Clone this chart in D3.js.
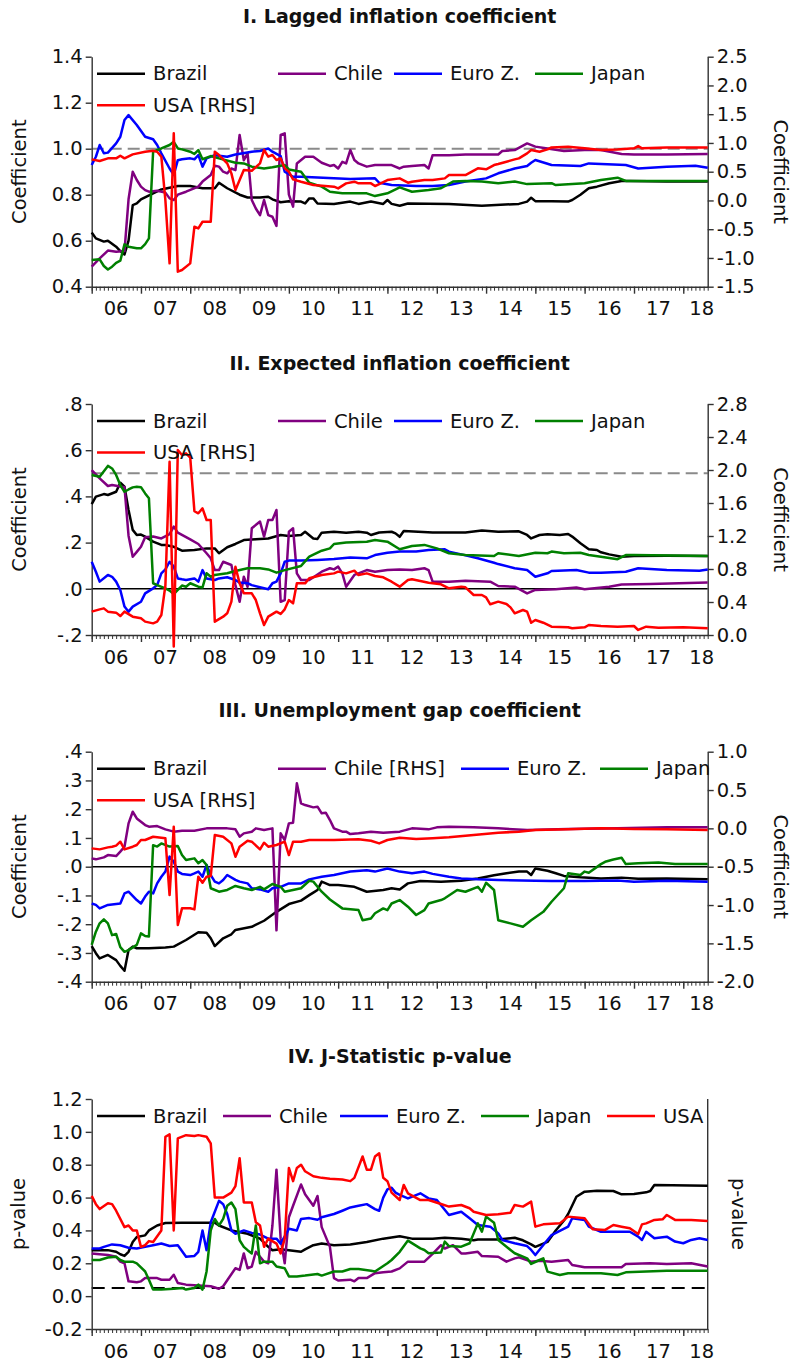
<!DOCTYPE html>
<html><head><meta charset="utf-8">
<script src="https://cdn.jsdelivr.net/npm/d3@7"></script>
<style>body{margin:0;background:#fff}text{font-family:"DejaVu Sans",sans-serif;fill:#111}</style>
</head><body><svg id="c" width="793" height="1363"></svg>
<script>
// month index 0 = Jan 2006 (monthly observations, last = Jul 2018)
const yearLabels = ["06","07","08","09","10","11","12","13","14","15","16","17","18"];
const countries = ["Brazil","Chile","Euro Z.","Japan","USA"];

// ---------- Panel I: Lagged inflation coefficient ----------
const lagBrazil=[[0,.636],[1,.61],[3,.596],[4,.60],[6,.574],[7,.555],[8,.54],[9,.60],[10,.755],[11,.762],[12,.78],[15,.806],[17,.823],[21,.838],[24,.838],[27,.828],[30,.828],[31,.852],[33,.828],[36,.80],[38,.788],[41,.788],[43,.791],[44,.78],[46,.767],[48,.772],[51,.77],[52,.762],[53,.784],[54,.784],[55,.762],[59,.76],[63,.77],[65,.76],[68,.77],[71,.76],[72,.777],[73,.76],[75,.752],[77,.762],[87,.76],[95,.752],[104,.76],[106,.77],[107,.787],[108,.772],[112,.772],[116,.77],[117,.777],[119,.80],[121,.828],[123,.835],[126,.85],[129,.86],[131,.86],[140,.857],[150,.857]];
const lagChile=[[0,.487],[2,.523],[4,.557],[6,.552],[8,.555],[9,.78],[10,.90],[11,.864],[12,.835],[13,.82],[14,.813],[16,.817],[18,.809],[19,.784],[20,.777],[21,.80],[23,.813],[26,.835],[27,.857],[29,.886],[30,.926],[31,.922],[32,.90],[33,.893],[34,.914],[35,.907],[36,1.06],[37,.95],[38,.98],[39,.777],[40,.74],[41,.711],[42,.777],[43,.711],[44,.704],[45,.664],[46,1.06],[47,1.067],[48,.80],[49,.748],[50,.936],[52,.965],[54,.965],[56,.939],[58,.925],[59,.929],[60,.914],[61,.943],[62,.936],[63,.994],[64,.951],[65,.936],[67,.922],[69,.929],[73,.929],[75,.914],[76,.922],[78,.925],[81,.929],[82,.914],[83,.972],[87,.972],[91,.975],[99,.975],[100,.99],[103,.994],[106,1.023],[108,1.009],[111,1.001],[115,.99],[120,.994],[124,.994],[129,.977],[132,.975],[140,.975],[150,.977]];
const lagEuro=[[0,.929],[1,.965],[2,1.016],[3,.98],[4,.983],[6,1.023],[7,1.052],[8,1.125],[9,1.146],[11,1.103],[13,1.052],[15,1.041],[16,1.016],[17,.98],[19,.914],[20,.886],[21,.95],[22,.954],[24,.958],[25,.954],[26,.972],[27,.922],[28,.958],[30,.972],[33,.965],[35,.975],[39,.987],[41,.99],[43,1.001],[44,.987],[46,.968],[47,.90],[49,.878],[51,.878],[55,.875],[63,.868],[69,.871],[70,.852],[73,.842],[79,.838],[83,.838],[87,.842],[91,.857],[96,.871],[99,.893],[103,.914],[106,.925],[107,.939],[108,.951],[112,.929],[119,.925],[121,.936],[130,.929],[133,.914],[140,.922],[147,.926],[150,.917]];
const lagJapan=[[0,.516],[2,.519],[3,.49],[4,.475],[5,.487],[6,.504],[7,.513],[8,.584],[9,.574],[11,.567],[12,.567],[13,.585],[14,.61],[15,.987],[17,1.001],[19,1.016],[20,1.03],[21,1.001],[22,.997],[24,.987],[25,.977],[26,.994],[27,.954],[29,.968],[31,.958],[35,.939],[37,.936],[39,.922],[42,.914],[44,.919],[47,.929],[48,.91],[51,.90],[53,.852],[56,.835],[58,.813],[61,.806],[67,.806],[69,.794],[72,.806],[75,.832],[78,.813],[82,.82],[85,.828],[88,.857],[91,.86],[95,.857],[99,.85],[103,.857],[106,.846],[112,.85],[113,.842],[120,.85],[124,.864],[128,.874],[130,.86],[150,.86]];
const lagUSA=[[0,.714],[2,.686],[4,.732],[6,.732],[7,.778],[8,.732],[10,.801],[13,.848],[15,.865],[16,.848],[17,.761],[18,.0],[19,-1.094],[20,1.167],[21,-1.239],[22,-1.21],[24,-1.094],[25,-.457],[26,-.486],[27,-.37],[29,-.37],[30,.848],[31,.79],[33,.645],[34,.471],[35,.181],[36,.355],[37,.529],[39,.517],[41,.645],[42,.877],[43,.761],[44,.79],[45,.703],[46,.732],[47,.558],[48,.5],[49,.367],[51,.326],[54,.268],[59,.239],[60,.21],[62,.297],[64,.326],[65,.297],[68,.297],[69,.251],[72,.355],[75,.384],[77,.309],[78,.326],[81,.355],[83,.355],[86,.384],[87,.442],[91,.442],[94,.558],[96,.541],[98,.616],[99,.633],[101,.674],[103,.714],[104,.732],[106,.819],[107,.877],[109,.848],[111,.888],[112,.923],[116,.935],[120,.906],[124,.877],[128,.888],[132,.906],[133,.946],[134,.906],[140,.923],[150,.923]];
const lagTicksL=[0.4,0.6,0.8,1.0,1.2,1.4];
const lagTicksR=[-1.5,-1.0,-0.5,0.0,0.5,1.0,1.5,2.0,2.5];

// ---------- Panel II: Expected inflation coefficient ----------
const expBrazil=[[0,.367],[1,.399],[3,.41],[4,.406],[6,.42],[7,.459],[8,.442],[9,.341],[10,.255],[11,.233],[12,.235],[13,.226],[15,.204],[17,.19],[18,.19],[20,.182],[22,.165],[25,.168],[28,.175],[30,.175],[31,.154],[33,.18],[35,.194],[37,.211],[40,.214],[43,.218],[46,.233],[48,.229],[51,.233],[52,.247],[54,.218],[55,.216],[56,.243],[59,.247],[62,.243],[65,.247],[67,.243],[68,.233],[70,.244],[73,.247],[74,.24],[75,.225],[76,.25],[83,.244],[91,.244],[95,.252],[99,.247],[104,.249],[106,.233],[107,.218],[109,.233],[111,.236],[114,.233],[116,.237],[117,.226],[119,.197],[121,.171],[123,.168],[124,.158],[126,.149],[129,.139],[132,.142],[140,.143],[150,.142]];
const expChile=[[0,.514],[2,.478],[4,.445],[5,.449],[8,.44],[9,.23],[10,.139],[11,.16],[12,.182],[13,.223],[15,.226],[17,.218],[19,.237],[20,.269],[21,.243],[24,.214],[26,.194],[28,.154],[29,.132],[30,.081],[31,.081],[32,.117],[34,.103],[35,.016],[36,-.056],[37,.052],[38,.009],[39,.262],[41,.291],[42,.226],[43,.298],[44,.298],[45,.341],[46,-.056],[47,-.049],[48,.247],[49,.262],[50,.067],[51,.038],[53,.038],[56,.074],[58,.089],[59,.084],[60,.096],[61,.067],[62,.009],[64,.06],[65,.067],[67,.081],[69,.074],[72,.081],[75,.084],[78,.081],[81,.089],[82,.081],[83,.031],[87,.031],[91,.035],[97,.031],[99,.012],[103,.009],[106,-.02],[108,-.005],[113,-.002],[118,.006],[120,-.002],[126,.009],[129,.019],[136,.021],[150,.027]];
const expEuro=[[0,.117],[1,.074],[2,.031],[4,.06],[5,.052],[6,.031],[7,-.005],[8,-.077],[9,-.099],[10,-.077],[12,-.056],[13,-.02],[15,.002],[16,.016],[17,.067],[18,.084],[19,.117],[20,.096],[21,.045],[22,.041],[23,.038],[25,.045],[26,.031],[27,.081],[28,.045],[30,.038],[31,.045],[33,.05],[35,.038],[36,.027],[38,.024],[39,.016],[43,-.002],[44,.024],[45,.031],[46,.067],[47,.117],[48,.122],[51,.122],[55,.125],[59,.129],[63,.136],[67,.132],[69,.146],[72,.156],[75,.161],[79,.161],[82,.168],[86,.171],[87,.161],[90,.149],[94,.132],[98,.113],[99,.107],[103,.089],[106,.081],[108,.052],[111,.067],[112,.077],[118,.081],[121,.07],[124,.07],[130,.074],[133,.089],[140,.081],[148,.078],[150,.084]];
const expJapan=[[0,.493],[2,.485],[4,.532],[5,.521],[6,.493],[7,.449],[8,.42],[9,.43],[10,.439],[11,.442],[12,.44],[13,.413],[14,.392],[15,.024],[16,.016],[18,.002],[19,-.008],[20,-.023],[21,-.005],[22,.014],[23,.009],[24,.024],[26,.009],[27,.006],[28,.067],[29,.052],[30,.06],[33,.067],[35,.077],[38,.089],[41,.089],[43,.084],[45,.07],[47,.081],[51,.099],[53,.139],[56,.165],[58,.175],[59,.194],[62,.2],[67,.204],[69,.211],[72,.204],[75,.171],[78,.185],[81,.19],[84,.175],[87,.154],[91,.146],[98,.142],[99,.154],[104,.142],[108,.156],[111,.154],[112,.161],[115,.154],[119,.156],[121,.146],[124,.139],[128,.128],[130,.146],[132,.146],[150,.142]];
const expUSA=[[0,.283],[2,.311],[3,.323],[4,.283],[6,.271],[7,.23],[8,.283],[10,.222],[12,.202],[13,.162],[15,.141],[16,.162],[17,.242],[18,.6],[19,2.1],[20,-.14],[21,2.242],[22,2.182],[23,2.202],[24,2.15],[25,1.5],[26,1.475],[27,1.535],[28,1.394],[29,1.394],[30,.162],[32,.222],[33,.263],[34,.404],[35,.828],[36,.626],[37,.505],[39,.505],[40,.424],[41,.263],[42,.121],[43,.222],[45,.283],[46,.255],[47,.311],[48,.424],[49,.384],[50,.626],[52,.626],[53,.687],[56,.727],[59,.747],[60,.768],[62,.747],[64,.78],[65,.727],[67,.747],[69,.715],[71,.699],[73,.646],[75,.586],[77,.667],[78,.675],[82,.634],[85,.614],[87,.566],[90,.586],[91,.578],[93,.485],[95,.485],[96,.457],[97,.372],[99,.404],[101,.376],[102,.335],[103,.263],[105,.303],[106,.283],[107,.149],[108,.182],[110,.149],[112,.101],[116,.093],[117,.081],[120,.093],[121,.121],[124,.109],[128,.101],[132,.109],[133,.061],[135,.101],[138,.089],[144,.093],[150,.081]];
const expTicksL=[-0.2,0.0,0.2,0.4,0.6,0.8];
const expTicksR=[0.0,0.4,0.8,1.2,1.6,2.0,2.4,2.8];

// ---------- Panel III: Unemployment gap coefficient ----------
const unBrazil=[[0,-.276],[1,-.301],[2,-.319],[4,-.307],[6,-.325],[7,-.345],[8,-.362],[9,-.29],[10,-.278],[11,-.284],[14,-.284],[18,-.281],[20,-.278],[23,-.255],[26,-.228],[28,-.23],[29,-.249],[30,-.276],[32,-.249],[34,-.235],[35,-.22],[39,-.209],[42,-.188],[45,-.157],[48,-.13],[51,-.118],[53,-.099],[54,-.09],[55,-.081],[56,-.052],[58,-.064],[60,-.064],[64,-.07],[67,-.087],[71,-.081],[73,-.075],[75,-.079],[77,-.058],[80,-.05],[85,-.052],[90,-.049],[94,-.041],[98,-.03],[101,-.023],[104,-.017],[106,-.017],[107,-.029],[108,-.006],[111,-.014],[113,-.023],[115,-.032],[119,-.037],[124,-.041],[129,-.038],[133,-.042],[140,-.041],[150,-.044]];
const unChile=[[0,-.391],[1,-.404],[3,-.378],[4,-.348],[6,-.361],[7,-.304],[8,-.239],[9,.065],[10,.217],[11,.13],[13,.043],[14,.022],[16,.03],[18,-.013],[20,-.043],[22,-.03],[25,-.03],[28,0],[33,0],[35,-.013],[36,-.109],[37,-.065],[39,-.043],[40,0],[42,-.022],[44,0],[45,-1.33],[46,-.065],[47,-.152],[48,.065],[49,.074],[50,.587],[51,.326],[52,.304],[54,.274],[55,.283],[56,.196],[57,.204],[58,.109],[59,0],[61,-.043],[62,-.043],[63,-.074],[65,-.065],[68,-.043],[71,-.057],[75,-.043],[78,0],[82,-.013],[84,.013],[87,.022],[93,.013],[99,0],[106,-.022],[116,-.009],[128,0],[140,.013],[150,.013]];
const unEuro=[[0,-.128],[1,-.133],[2,-.145],[4,-.133],[7,-.128],[8,-.093],[9,-.087],[11,-.116],[12,-.128],[13,-.104],[14,-.087],[15,-.093],[16,-.058],[17,-.035],[18,-.017],[19,.035],[20,.017],[21,-.017],[22,-.025],[24,-.029],[25,-.023],[26,-.017],[27,-.035],[28,.006],[29,-.029],[30,-.052],[31,-.058],[32,-.046],[33,-.029],[35,-.046],[36,-.052],[38,-.058],[39,-.075],[41,-.079],[43,-.087],[44,-.075],[46,-.07],[48,-.058],[51,-.058],[53,-.044],[56,-.035],[59,-.029],[63,-.017],[67,-.012],[69,-.017],[72,-.006],[75,-.017],[78,-.023],[81,-.017],[83,-.025],[87,-.035],[90,-.041],[94,-.044],[99,-.046],[108,-.049],[112,-.05],[120,-.05],[128,-.048],[132,-.052],[140,-.049],[150,-.052]];
const unJapan=[[0,-.272],[1,-.226],[2,-.197],[3,-.183],[4,-.197],[5,-.238],[6,-.234],[7,-.28],[8,-.296],[9,-.29],[11,-.272],[12,-.232],[13,-.241],[14,-.243],[15,.075],[16,.07],[17,.081],[19,.07],[21,.072],[22,.041],[23,.023],[25,.029],[26,.012],[27,.023],[28,.006],[29,-.075],[31,-.087],[33,-.081],[35,-.067],[37,-.075],[39,-.081],[41,-.07],[42,-.079],[44,-.06],[46,-.07],[47,-.087],[51,-.075],[53,-.049],[54,-.052],[56,-.087],[58,-.114],[61,-.145],[65,-.151],[66,-.186],[68,-.18],[69,-.162],[71,-.145],[72,-.151],[73,-.128],[75,-.116],[77,-.139],[79,-.168],[81,-.151],[82,-.128],[85,-.116],[86,-.11],[89,-.081],[91,-.087],[94,-.07],[95,-.087],[96,-.056],[98,-.081],[99,-.186],[102,-.197],[105,-.209],[107,-.186],[110,-.157],[112,-.122],[115,-.075],[116,-.023],[119,-.029],[120,-.017],[121,-.021],[124,.009],[125,.017],[127,.025],[129,.031],[130,.009],[133,.012],[138,.015],[142,.009],[150,.009]];
const unUSA=[[0,-.261],[2,-.274],[4,-.248],[5,-.239],[6,-.225],[7,-.174],[8,-.274],[10,-.239],[11,-.217],[12,-.152],[13,-.152],[15,-.109],[18,-.13],[19,-.87],[20,.022],[21,-1.261],[22,-1.043],[24,-1.043],[25,-1.057],[26,-.63],[27,-.709],[28,-.63],[29,-.622],[30,-.087],[32,-.109],[34,-.196],[35,-.37],[36,-.239],[38,-.161],[39,-.174],[41,-.274],[42,-.187],[43,-.239],[45,-.217],[47,-.174],[48,-.348],[49,-.174],[51,-.174],[53,-.152],[59,-.152],[65,-.143],[68,-.161],[70,-.196],[72,-.152],[75,-.122],[79,-.139],[83,-.13],[87,-.117],[91,-.096],[95,-.078],[99,-.057],[104,-.043],[108,-.022],[116,-.013],[124,0],[132,-.009],[140,-.013],[150,-.022]];
const unTicksL=[-0.4,-0.3,-0.2,-0.1,0.0,0.1,0.2,0.3,0.4];
const unTicksR=[-2.0,-1.5,-1.0,-0.5,0.0,0.5,1.0];

// ---------- Panel IV: J-Statistic p-value ----------
const jBrazil=[[0,.28],[2,.28],[4,.28],[6,.27],[7,.255],[8,.245],[9,.27],[10,.33],[11,.36],[13,.37],[14,.40],[16,.43],[18,.445],[22,.447],[26,.447],[30,.447],[31,.43],[34,.40],[38,.38],[41,.35],[43,.30],[44,.28],[46,.285],[48,.28],[51,.27],[52,.285],[54,.31],[56,.32],[59,.31],[63,.315],[67,.33],[71,.35],[75,.365],[78,.35],[83,.35],[86,.355],[90,.35],[93,.34],[94,.345],[99,.345],[103,.355],[105,.34],[107,.315],[108,.30],[111,.33],[113,.40],[115,.46],[116,.50],[118,.605],[120,.636],[123,.642],[127,.64],[129,.62],[132,.622],[135,.632],[136,.64],[137,.677],[150,.672]];
const jChile=[[0,.26],[2,.255],[4,.25],[6,.24],[7,.21],[8,.20],[9,.09],[11,.085],[12,.09],[13,.11],[16,.11],[17,.10],[19,.10],[20,.13],[21,.08],[23,.07],[26,.065],[29,.06],[31,.045],[32,.06],[35,.17],[36,.16],[37,.26],[38,.17],[39,.18],[40,.27],[42,.21],[43,.20],[44,.43],[45,.77],[46,.35],[47,.20],[48,.48],[49,.55],[51,.68],[52,.62],[54,.55],[55,.61],[56,.42],[58,.30],[59,.11],[60,.095],[63,.10],[64,.09],[65,.11],[67,.11],[69,.14],[71,.145],[73,.15],[75,.169],[77,.21],[81,.21],[83,.257],[85,.31],[86,.29],[88,.31],[90,.26],[91,.26],[94,.27],[95,.244],[99,.24],[101,.21],[103,.23],[104,.236],[107,.21],[109,.216],[112,.21],[116,.22],[117,.19],[120,.176],[124,.176],[129,.176],[130,.196],[136,.2],[140,.196],[146,.2],[150,.18]];
const jEuro=[[0,.29],[2,.29],[3,.30],[5,.315],[7,.31],[9,.295],[11,.29],[13,.30],[15,.31],[17,.32],[19,.305],[21,.31],[23,.24],[25,.245],[26,.27],[27,.40],[28,.28],[29,.45],[31,.58],[32,.56],[33,.50],[34,.40],[35,.38],[37,.40],[39,.385],[41,.375],[43,.35],[45,.35],[46,.32],[48,.41],[50,.40],[51,.47],[53,.475],[55,.465],[56,.48],[59,.50],[61,.52],[63,.54],[65,.55],[67,.56],[69,.53],[70,.52],[71,.60],[72,.65],[73,.66],[74,.63],[75,.616],[77,.595],[80,.626],[82,.595],[84,.585],[87,.494],[90,.514],[92,.474],[94,.433],[97,.423],[99,.382],[100,.342],[103,.322],[106,.305],[107,.281],[108,.25],[110,.311],[112,.372],[116,.423],[117,.474],[120,.464],[121,.423],[124,.392],[131,.392],[133,.362],[134,.342],[135,.392],[137,.352],[140,.362],[142,.332],[144,.322],[146,.342],[148,.352],[150,.342]];
const jJapan=[[0,.22],[2,.22],[4,.235],[6,.24],[7,.22],[8,.21],[10,.21],[11,.20],[13,.15],[14,.10],[15,.04],[17,.04],[20,.045],[22,.05],[23,.04],[25,.05],[26,.07],[27,.04],[28,.15],[29,.40],[30,.47],[31,.43],[32,.47],[33,.55],[34,.57],[35,.53],[36,.34],[37,.30],[38,.28],[39,.26],[40,.43],[41,.20],[42,.21],[44,.21],[45,.18],[47,.17],[48,.12],[50,.12],[52,.125],[55,.135],[56,.125],[59,.15],[61,.15],[63,.165],[65,.165],[68,.155],[69,.15],[72,.20],[73,.22],[75,.27],[77,.338],[80,.291],[81,.281],[82,.261],[85,.265],[86,.332],[87,.305],[90,.301],[92,.322],[94,.443],[95,.392],[96,.484],[98,.447],[99,.342],[102,.281],[103,.261],[106,.23],[107,.196],[109,.22],[110,.23],[111,.149],[114,.129],[116,.139],[124,.139],[128,.129],[130,.145],[140,.155],[150,.155]];
const jUSA=[[0,.61],[1,.56],[2,.53],[4,.565],[5,.56],[6,.52],[8,.42],[9,.43],[10,.40],[11,.40],[12,.30],[13,.31],[14,.335],[15,.33],[17,.40],[18,.97],[19,.985],[20,.40],[21,.96],[23,.98],[25,.975],[26,.98],[28,.97],[29,.93],[30,.60],[32,.60],[34,.63],[35,.67],[36,.84],[37,.57],[39,.57],[40,.45],[41,.43],[42,.30],[43,.35],[45,.32],[46,.26],[47,.35],[48,.78],[49,.70],[50,.78],[51,.80],[52,.76],[54,.73],[56,.72],[58,.715],[61,.71],[63,.70],[64,.72],[66,.85],[67,.77],[68,.77],[69,.85],[70,.87],[71,.72],[72,.70],[73,.63],[75,.585],[76,.677],[77,.626],[80,.585],[82,.585],[85,.561],[87,.545],[90,.555],[92,.535],[93,.514],[96,.494],[99,.498],[102,.508],[103,.555],[105,.545],[107,.575],[108,.423],[110,.437],[114,.443],[116,.484],[120,.474],[122,.407],[125,.403],[127,.433],[129,.423],[131,.413],[133,.378],[134,.437],[135,.443],[137,.464],[139,.468],[140,.494],[142,.464],[146,.464],[150,.457]];
const jTicksL=[-0.2,0.0,0.2,0.4,0.6,0.8,1.0,1.2];

// ---------- drawing ----------
const svg = d3.select("#c");
const X0 = 91.7, X1 = 707.7;
const FS = 19.5;
const x = d3.scaleTime().domain([new Date(2006,0,1), new Date(2018,6,1)]).range([X0, X1]);
const dt = m => new Date(2006, m, 1);
const colors = ["#000000","#800080","#0000ff","#008000","#ff0000"];
const fmt1 = v => d3.format(".1f")(v).replace("−","-");
const fmtDot = v => fmt1(v).replace(/^(-?)0\./,"$1.");

const panels = [
 {title:"I. Lagged inflation coefficient", top:56.7, bottom:286.7, titleY:23,
  L:[0.4,1.4], R:[-1.5,2.5], tL:lagTicksL, tR:lagTicksR, fL:fmt1, fR:fmt1, lab:"Coefficient",
  data:[lagBrazil,lagChile,lagEuro,lagJapan,lagUSA], axes:["L","L","L","L","R"],
  names:["Brazil","Chile","Euro Z.","Japan","USA [RHS]"],
  leg:[[97,0],[278,0],[394,0],[535,0],[97,1]],
  refs:[{v:1.0,c:"#8a8a8a",dash:"12,6",w:2}]},
 {title:"II. Expected inflation coefficient", top:404, bottom:635, titleY:370,
  L:[-0.2,0.8], R:[0,2.8], tL:expTicksL, tR:expTicksR, fL:fmtDot, fR:fmt1, lab:"Coefficient",
  data:[expBrazil,expChile,expEuro,expJapan,expUSA], axes:["L","L","L","L","R"],
  names:["Brazil","Chile","Euro Z.","Japan","USA [RHS]"],
  leg:[[97,0],[278,0],[394,0],[535,0],[97,1]],
  refs:[{v:0.5,c:"#8a8a8a",dash:"12,6",w:2},{v:0,c:"#000",dash:null,w:1.5}]},
 {title:"III. Unemployment gap coefficient", top:751.7, bottom:981.7, titleY:716.7,
  L:[-0.4,0.4], R:[-2.0,1.0], tL:unTicksL, tR:unTicksR, fL:fmtDot, fR:fmt1, lab:"Coefficient",
  data:[unBrazil,unChile,unEuro,unJapan,unUSA], axes:["L","R","L","L","R"],
  names:["Brazil","Chile [RHS]","Euro Z.","Japan","USA [RHS]"],
  leg:[[97,0],[278,0],[461,0],[600,0],[97,1]],
  refs:[{v:0,c:"#000",dash:null,w:1.5}]},
 {title:"IV. J-Statistic p-value", top:1099, bottom:1329, titleY:1063,
  L:[-0.2,1.2], R:null, tL:jTicksL, tR:null, fL:fmt1, fR:null, lab:"p-value",
  data:[jBrazil,jChile,jEuro,jJapan,jUSA], axes:["L","L","L","L","L"],
  names:countries,
  leg:[[97,0],[223,0],[340,0],[481,0],[607,0]],
  refs:[{v:0.05,c:"#000",dash:"13,7",w:2}]}
];

const axisColor = "#333";
function styleAxis(g){
  g.selectAll("path,line").attr("stroke",axisColor).attr("stroke-width",1.4);
  g.selectAll("text").attr("font-size",FS).attr("font-family","DejaVu Sans").attr("fill","#111");
}

panels.forEach(p=>{
  const g = svg.append("g");
  const yL = d3.scaleLinear().domain(p.L).range([p.bottom,p.top]);
  const yR = p.R ? d3.scaleLinear().domain(p.R).range([p.bottom,p.top]) : null;

  g.append("text").attr("x",(X0+X1)/2).attr("y",p.titleY).attr("text-anchor","middle")
    .attr("font-weight","bold").attr("font-size",19).text(p.title);

  // reference lines
  p.refs.forEach(r=>{
    g.append("line").attr("x1",X0).attr("x2",X1).attr("y1",yL(r.v)).attr("y2",yL(r.v))
      .attr("stroke",r.c).attr("stroke-width",r.w).attr("stroke-dasharray",r.dash);
  });

  // x axis: monthly minor ticks, yearly major ticks
  const months = d3.range(0,151).map(dt);
  const gx1 = g.append("g").attr("transform",`translate(0,${p.bottom})`)
    .call(d3.axisBottom(x).tickValues(months).tickSize(4).tickSizeOuter(0).tickFormat(""));
  styleAxis(gx1); gx1.selectAll("line").attr("stroke-width",1);
  const yearsT = d3.range(0,13).map(i=>dt(i*12));
  const gx2 = g.append("g").attr("transform",`translate(0,${p.bottom})`)
    .call(d3.axisBottom(x).tickValues(yearsT).tickSize(7).tickSizeOuter(0).tickFormat(""));
  styleAxis(gx2); gx2.select("path").remove();
  yearLabels.forEach((lab,i)=>{
    let xp = x(dt(i*12+6));
    xp = Math.min(xp, X1-6);
    g.append("text").attr("x",xp).attr("y",p.bottom+28.5).attr("text-anchor","middle")
      .attr("font-size",FS).text(lab);
  });

  // left axis
  const gl = g.append("g").attr("transform",`translate(${X0},0)`)
    .call(d3.axisLeft(yL).tickValues(p.tL).tickSize(6).tickSizeOuter(0).tickPadding(3).tickFormat(p.fL));
  styleAxis(gl);
  // right axis
  if (yR){
    const gr = g.append("g").attr("transform",`translate(${X1},0)`)
      .call(d3.axisRight(yR).tickValues(p.tR).tickSize(6).tickSizeOuter(0).tickPadding(3).tickFormat(p.fR));
    styleAxis(gr);
  } else {
    g.append("line").attr("x1",X1).attr("x2",X1).attr("y1",p.top).attr("y2",p.bottom)
      .attr("stroke",axisColor).attr("stroke-width",1.4);
  }
  const cy = (p.top+p.bottom)/2;
  g.append("text").attr("transform",`translate(${p.R?26:25},${cy}) rotate(-90)`).attr("text-anchor","middle")
    .attr("font-size",FS).text(p.lab);
  g.append("text").attr("transform",`translate(${p.R?774:732},${cy}) rotate(90)`).attr("text-anchor","middle")
    .attr("font-size",FS).text(p.lab);

  // series
  p.data.forEach((d,i)=>{
    const ys = p.axes[i]==="R" ? yR : yL;
    const line = d3.line().x(v=>x(dt(v[0]))).y(v=>ys(v[1]));
    g.append("path").datum(d).attr("d",line).attr("fill","none")
      .attr("stroke",colors[i]).attr("stroke-width",2.5).attr("stroke-linejoin","round");
  });

  // legend
  p.names.forEach((n,i)=>{
    const [lx,row] = p.leg[i];
    const ly = p.top + 17 + row*31.5;
    g.append("line").attr("x1",lx).attr("x2",lx+48).attr("y1",ly).attr("y2",ly)
      .attr("stroke",colors[i]).attr("stroke-width",2.5);
    g.append("text").attr("x",lx+56).attr("y",ly+6.5).attr("font-size",FS).text(n);
  });
});
</script>
</body></html>
